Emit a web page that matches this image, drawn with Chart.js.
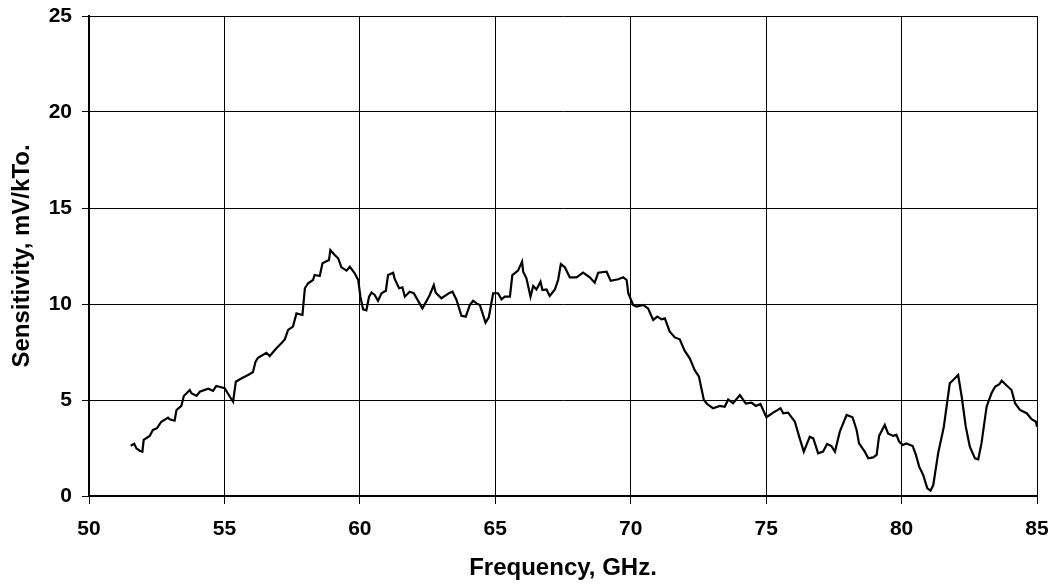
<!DOCTYPE html>
<html>
<head>
<meta charset="utf-8">
<script src="https://cdn.jsdelivr.net/npm/chart.js@4/dist/chart.umd.min.js"></script>
<style>
html,body{margin:0;padding:0;background:#fff;}
#wrap{width:1060px;height:584px;position:relative;}
</style>
</head>
<body>
<div id="wrap"><canvas id="c" width="1060" height="584"></canvas></div>
<script>
const freqGHz = [51.54,51.67,51.75,51.87,51.97,52.02,52.24,52.36,52.51,52.67,52.92,52.98,53.16,53.23,53.41,53.50,53.72,53.78,53.97,54.09,54.40,54.58,54.70,55.01,55.20,55.32,55.42,55.57,55.87,56.05,56.15,56.24,56.55,56.67,56.92,57.10,57.23,57.35,57.53,57.66,57.88,57.97,58.09,58.27,58.33,58.52,58.62,58.86,58.91,59.07,59.20,59.32,59.51,59.63,59.81,59.94,60.02,60.12,60.24,60.34,60.43,60.55,60.67,60.80,60.96,61.04,61.23,61.29,61.45,61.57,61.66,61.84,61.99,62.31,62.58,62.73,62.80,63.01,63.32,63.42,63.57,63.75,63.91,64.06,64.18,64.31,64.43,64.64,64.76,64.92,65.10,65.23,65.35,65.54,65.63,65.84,65.99,66.03,66.15,66.30,66.40,66.52,66.67,66.74,66.89,67.01,67.20,67.32,67.42,67.57,67.75,68.00,68.24,68.49,68.67,68.80,69.11,69.26,69.54,69.72,69.85,69.91,70.09,70.21,70.46,70.64,70.83,70.98,71.14,71.26,71.44,71.63,71.81,71.99,72.18,72.36,72.52,72.70,72.82,73.04,73.29,73.47,73.60,73.78,74.03,74.25,74.46,74.62,74.79,75.01,75.26,75.53,75.63,75.81,76.06,76.22,76.39,76.61,76.74,76.92,77.10,77.25,77.41,77.54,77.72,77.97,78.19,78.34,78.43,78.64,78.77,78.95,79.08,79.17,79.38,79.50,79.69,79.81,79.91,80.04,80.18,80.41,80.53,80.65,80.80,80.95,81.07,81.17,81.35,81.56,81.78,81.97,82.09,82.22,82.37,82.52,82.71,82.83,82.95,83.14,83.32,83.45,83.61,83.70,83.86,84.06,84.19,84.37,84.62,84.80,84.96,85.00];
const sensitivity = [2.62,2.72,2.48,2.36,2.31,2.92,3.13,3.44,3.53,3.87,4.08,3.99,3.92,4.48,4.69,5.21,5.52,5.35,5.21,5.43,5.59,5.48,5.73,5.61,5.17,4.91,5.95,6.08,6.30,6.45,7.00,7.20,7.46,7.29,7.69,7.95,8.16,8.65,8.82,9.51,9.43,10.82,11.08,11.25,11.51,11.46,12.12,12.29,12.81,12.55,12.38,11.91,11.74,11.94,11.60,11.25,10.38,9.72,9.67,10.38,10.59,10.47,10.17,10.56,10.69,11.51,11.63,11.29,10.82,10.87,10.38,10.64,10.56,9.77,10.47,10.99,10.59,10.30,10.59,10.64,10.21,9.38,9.34,9.95,10.17,10.03,9.95,9.03,9.30,10.56,10.56,10.24,10.38,10.38,11.51,11.74,12.21,11.68,11.34,10.38,10.94,10.76,11.16,10.73,10.76,10.42,10.76,11.25,12.08,11.91,11.39,11.39,11.63,11.39,11.11,11.63,11.68,11.21,11.29,11.39,11.25,10.56,9.95,9.86,9.95,9.77,9.17,9.34,9.20,9.25,8.56,8.26,8.16,7.57,7.17,6.56,6.21,5.00,4.79,4.57,4.69,4.65,5.03,4.83,5.26,4.81,4.86,4.69,4.79,4.10,4.34,4.57,4.31,4.34,3.87,3.09,2.31,3.09,3.00,2.22,2.31,2.71,2.60,2.31,3.35,4.22,4.10,3.44,2.74,2.31,1.96,2.01,2.14,3.13,3.70,3.26,3.13,3.18,2.83,2.66,2.74,2.60,2.14,1.53,1.09,0.40,0.28,0.57,2.22,3.61,5.87,6.13,6.30,5.17,3.61,2.57,1.96,1.91,2.74,4.65,5.35,5.69,5.83,6.01,5.78,5.52,4.83,4.48,4.31,4.00,3.87,3.61];
const xTicks = [50,55,60,65,70,75,80,85];
const yTicks = [0,5,10,15,20,25];
const xTitle = 'Frequency, GHz.';
const yTitle = 'Sensitivity, mV/kTo.';

const points = freqGHz.map((f,i)=>({x:f,y:sensitivity[i]}));
const fontFam = '"Liberation Sans", Arial, Helvetica, sans-serif';

new Chart(document.getElementById('c'), {
  type: 'scatter',
  data: { datasets: [{
    data: points,
    showLine: true,
    borderColor: '#000',
    borderWidth: 2.2,
    pointRadius: 0,
    tension: 0,
    fill: false
  }]},
  options: {
    responsive: false,
    animation: false,
    devicePixelRatio: 1,
    layout: { autoPadding: false, padding: { top: 16, right: 23, left: 0, bottom: 0 } },
    plugins: { legend: { display: false }, tooltip: { enabled: false } },
    scales: {
      x: {
        type: 'linear', min: 50, max: 85,
        afterBuildTicks: s => { s.ticks = xTicks.map(v=>({value:v})); },
        afterFit: s => { s.height = 88; s.paddingLeft = 0; s.paddingRight = 0; },
        grid: { color: '#000', lineWidth: 1, tickLength: 8, tickColor: '#000', drawTicks: true },
        border: { display: true, color: '#000', width: 2 },
        ticks: { color: '#000', padding: 13, maxRotation: 0, font: { family: fontFam, size: 21, weight: 'bold' } },
        title: { display: true, text: xTitle, color: '#000', padding: { top: 0, bottom: 1 }, font: { family: fontFam, size: 24, weight: 'bold' } }
      },
      y: {
        type: 'linear', min: 0, max: 25,
        afterBuildTicks: s => { s.ticks = yTicks.map(v=>({value:v})); },
        afterFit: s => { s.width = 89; s.paddingTop = 0; s.paddingBottom = 0; },
        grid: { color: '#000', lineWidth: 1, tickLength: 7, tickColor: '#000', drawTicks: true },
        border: { display: true, color: '#000', width: 2 },
        ticks: { color: '#000', padding: 10, font: { family: fontFam, size: 21, weight: 'bold' } },
        title: { display: true, text: yTitle, color: '#000', padding: { top: 8, bottom: 0 }, font: { family: fontFam, size: 24, weight: 'bold' } }
      }
    }
  }
});
</script>
</body>
</html>
